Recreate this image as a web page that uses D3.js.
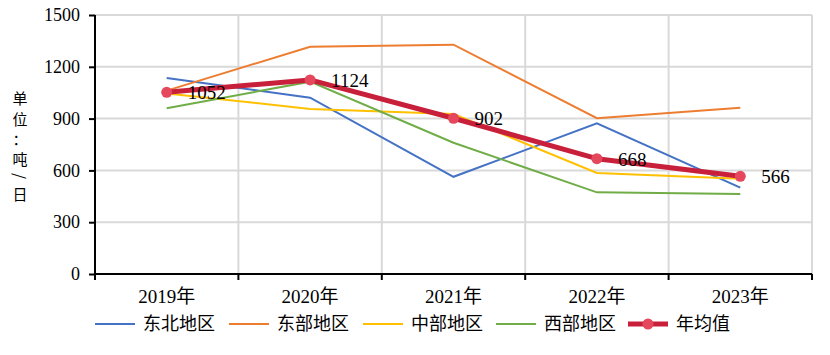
<!DOCTYPE html>
<html><head><meta charset="utf-8">
<script src="https://cdn.jsdelivr.net/npm/d3@7"></script>
<style>body{margin:0;background:#fff}svg{display:block}</style>
</head><body><svg id="c" width="830" height="355"></svg>
<script>
const categories = ["2019年","2020年","2021年","2022年","2023年"];
const northeast = [1135, 1021, 563, 873, 500];
const east = [1062, 1316, 1328, 902, 963];
const central = [1046, 956, 927, 585, 552];
const west = [960, 1114, 760, 473, 463];
const average = [1052, 1124, 902, 668, 566];
const yTicks = [0, 300, 600, 900, 1200, 1500];
const seriesNames = ["东北地区","东部地区","中部地区","西部地区","年均值"];
const yTitle = ["单","位","：","吨","/","日"];

const colors = ["#4472C4","#ED7D31","#FFC000","#70AD47"];
const avgLine = "#C8203A", avgDot = "#E5485C";
const font = "'Liberation Serif','Noto Sans CJK SC',serif";

const svg = d3.select("#c");
const L = 95, R = 812, T = 15, B = 274;
const x = d3.scaleBand().domain(categories).range([L, R]);
const y = d3.scaleLinear().domain([0, 1500]).range([B, T]);

// gridlines
svg.append("g").selectAll("line").data(yTicks.filter(d => d > 0)).join("line")
  .attr("x1", L).attr("x2", R).attr("y1", d => y(d)).attr("y2", d => y(d))
  .attr("stroke", "#d9d9d9").attr("stroke-width", 2);
svg.append("g").selectAll("line").data(categories).join("line")
  .attr("x1", d => x(d) + x.bandwidth()).attr("x2", d => x(d) + x.bandwidth())
  .attr("y1", T).attr("y2", B).attr("stroke", "#d9d9d9").attr("stroke-width", 2);

// y axis
const ya = svg.append("g").attr("transform", `translate(${L},0)`)
  .call(d3.axisLeft(y).tickValues(yTicks).tickFormat(d3.format("d")).tickSize(6).tickPadding(9));
ya.select(".domain").attr("stroke", "#000").attr("stroke-width", 2).attr("d", `M0,${T}V${B}`);
ya.selectAll(".tick line").attr("stroke", "#000").attr("stroke-width", 2);
ya.selectAll(".tick text").attr("font-family", font).attr("font-size", 18).attr("fill", "#000");

// x axis
const xa = svg.append("g").attr("transform", `translate(0,${B})`)
  .call(d3.axisBottom(x).tickSize(0).tickPadding(16));
xa.select(".domain").attr("stroke", "#000").attr("stroke-width", 2).attr("d", `M${L},0H${R}`);
xa.selectAll(".tick text").attr("font-family", font).attr("font-size", 19).attr("fill", "#000");
const bounds = [L].concat(categories.map(c => x(c) + x.bandwidth()));
xa.append("g").selectAll("line").data(bounds).join("line")
  .attr("x1", d => d).attr("x2", d => d).attr("y1", 0).attr("y2", 6)
  .attr("stroke", "#000").attr("stroke-width", 2);

// y title (stacked vertically)
const ty = [97, 118, 138, 158, 176, 193];
svg.append("g").selectAll("text").data(yTitle).join("text")
  .attr("text-anchor", "middle").attr("dominant-baseline", "central")
  .attr("transform", (d, i) => `translate(20,${ty[i]})` + (d === "/" ? " rotate(90)" : ""))
  .attr("font-family", "'Noto Sans CJK SC',sans-serif").attr("font-size", 15)
  .attr("fill", "#000").text(d => d);

const cx = c => x(c) + x.bandwidth() / 2;
const line = d3.line().x((d, i) => cx(categories[i])).y(d => y(d));

[northeast, east, central, west].forEach((s, k) => {
  svg.append("path").datum(s).attr("d", line).attr("fill", "none")
    .attr("stroke", colors[k]).attr("stroke-width", 2);
});
svg.append("path").datum(average).attr("d", line).attr("fill", "none")
  .attr("stroke", avgLine).attr("stroke-width", 5).attr("stroke-linejoin", "round");
svg.append("g").selectAll("circle").data(average).join("circle")
  .attr("cx", (d, i) => cx(categories[i])).attr("cy", d => y(d)).attr("r", 5.5)
  .attr("fill", avgDot);
svg.append("g").selectAll("text").data(average).join("text")
  .attr("x", (d, i) => cx(categories[i]) + 21).attr("y", d => y(d) + 7)
  .attr("font-family", font).attr("font-size", 19).attr("fill", "#000").text(d => d);

// legend
const lx = [95, 229, 363, 496, 628];
const ly = 324;
const lg = svg.append("g");
seriesNames.forEach((n, i) => {
  const g = lg.append("g");
  g.append("line").attr("x1", lx[i]).attr("x2", lx[i] + 40).attr("y1", ly).attr("y2", ly)
    .attr("stroke", i < 4 ? colors[i] : avgLine).attr("stroke-width", i < 4 ? 2 : 5);
  if (i === 4) g.append("circle").attr("cx", lx[i] + 20).attr("cy", ly).attr("r", 5.5).attr("fill", avgDot);
  g.append("text").attr("x", lx[i] + 48).attr("y", ly + 6).attr("font-family", font)
    .attr("font-size", 18).attr("fill", "#000").text(n);
});
</script></body></html>
